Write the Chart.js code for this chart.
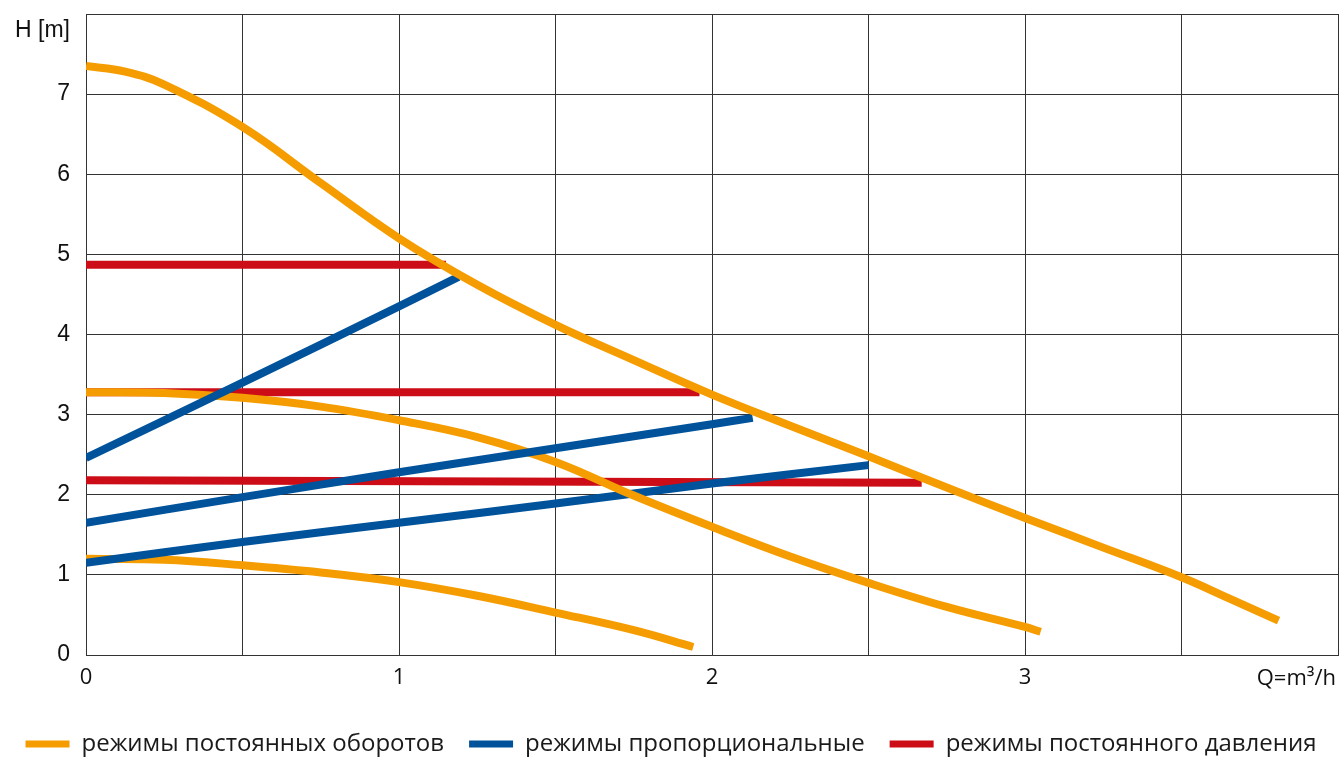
<!DOCTYPE html>
<html>
<head>
<meta charset="utf-8">
<script src="https://cdn.jsdelivr.net/npm/chart.js@4/dist/chart.umd.min.js"></script>
<style>
    html, body { margin: 0; padding: 0; background: #fff; }
    .chart-box { width: 1342px; height: 758px; }
</style>
</head>
<body>
<div class="chart-box"><canvas id="pumpCurves"></canvas></div>
<script>
// axes
const qTicks = [0, 0.5, 1, 1.5, 2, 2.5, 3, 3.5, 4];
const hTicks = [0, 1, 2, 3, 4, 5, 6, 7, 8];
const qUnit = 'Q=m³/h';
const hUnit = 'H [m]';

const legendNames = ['режимы постоянных оборотов', 'режимы пропорциональные', 'режимы постоянного давления'];

// constant speed (orange)
const speed1Q = [0, 0.125, 0.25, 0.5, 0.75, 1, 1.25, 1.5, 1.75, 2, 2.25, 2.5, 2.75, 3, 3.25, 3.5, 3.65, 3.81];
const speed1H = [7.35, 7.28, 7.12, 6.59, 5.89, 5.2, 4.62, 4.12, 3.68, 3.25, 2.86, 2.48, 2.09, 1.71, 1.34, 0.97, 0.71, 0.43];
const speed2Q = [0, 0.25, 0.5, 0.75, 1, 1.25, 1.5, 1.75, 2, 2.25, 2.5, 2.75, 3, 3.05];
const speed2H = [3.28, 3.27, 3.21, 3.1, 2.93, 2.72, 2.41, 1.99, 1.6, 1.23, 0.9, 0.6, 0.35, 0.29];
const speed3Q = [0, 0.25, 0.5, 0.75, 1, 1.25, 1.5, 1.75, 1.94];
const speed3H = [1.2, 1.19, 1.12, 1.03, 0.91, 0.74, 0.53, 0.31, 0.1];

// proportional (blue)
const prop1Q = [0, 0.5, 1, 1.19];
const prop1H = [2.46, 3.4, 4.35, 4.72];
const prop2Q = [0, 0.5, 1, 1.5, 2, 2.13];
const prop2H = [1.65, 1.97, 2.28, 2.58, 2.88, 2.96];
const prop3Q = [0, 0.5, 1, 1.5, 2, 2.5];
const prop3H = [1.15, 1.41, 1.65, 1.89, 2.14, 2.37];

// constant pressure (red)
const press1Q = [0, 1.15];
const press1H = [4.87, 4.87];
const press2Q = [0, 1.96];
const press2H = [3.28, 3.28];
const press3Q = [0, 2.67];
const press3H = [2.18, 2.15];

const ORANGE = '#f59d00';
const BLUE = '#00539b';
const RED = '#cc0c16';

function points(qs, hs) {
    return qs.map((q, i) => ({ x: q, y: hs[i] }));
}

function curve(label, qs, hs, color, smooth, inLegend) {
    return {
        label: label,
        data: points(qs, hs),
        borderColor: color,
        backgroundColor: color,
        borderWidth: 8,
        pointRadius: 0,
        pointHoverRadius: 0,
        tension: smooth ? 0.4 : 0,
        fill: false,
        inLegend: inLegend
    };
}

// first dataset is drawn on top
const datasets = [
    curve(legendNames[0], speed1Q, speed1H, ORANGE, true, true),
    curve(legendNames[1], prop2Q, prop2H, BLUE, true, true),
    curve(legendNames[1], prop1Q, prop1H, BLUE, true, false),
    curve(legendNames[0], speed2Q, speed2H, ORANGE, true, false),
    curve(legendNames[1], prop3Q, prop3H, BLUE, true, false),
    curve(legendNames[0], speed3Q, speed3H, ORANGE, true, false),
    curve(legendNames[2], press3Q, press3H, RED, false, true),
    curve(legendNames[2], press2Q, press2H, RED, false, false),
    curve(legendNames[2], press1Q, press1H, RED, false, false)
];

// unit labels sitting in the last tick slots
const unitLabels = {
    id: 'unitLabels',
    afterDraw(chart) {
        const ctx = chart.ctx;
        const x = chart.scales.x, y = chart.scales.y;
        ctx.save();
        ctx.fillStyle = '#111';
        ctx.textBaseline = 'middle';
        ctx.textAlign = 'right';
        ctx.font = '23px "Liberation Sans", Arial, sans-serif';
        ctx.fillText(hUnit, x.left - 16, y.getPixelForValue(hTicks[hTicks.length - 1]) + 17);
        ctx.font = '22px "Open Sans", sans-serif';
        ctx.fillText(qUnit, x.getPixelForValue(qTicks[qTicks.length - 1]) - 2, x.top + 24);
        ctx.restore();
    }
};

const ctx = document.getElementById('pumpCurves');
new Chart(ctx, {
    type: 'line',
    data: { datasets: datasets },
    plugins: [unitLabels],
    options: {
        responsive: true,
        maintainAspectRatio: false,
        animation: false,
        events: [],
        layout: { padding: { left: 0, right: 0, top: 14, bottom: 0 } },
        plugins: {
            tooltip: { enabled: false },
            legend: {
                position: 'bottom',
                maxHeight: 51,
                labels: {
                    boxWidth: 44,
                    boxHeight: 7,
                    padding: 25,
                    color: '#1a1a1a',
                    font: { family: '"Open Sans", sans-serif', size: 24 },
                    filter: (item, data) => data.datasets[item.datasetIndex].inLegend,
                    generateLabels(chart) {
                        return Chart.defaults.plugins.legend.labels.generateLabels(chart)
                            .map(l => Object.assign(l, { lineWidth: 0 }));
                    }
                }
            }
        },
        scales: {
            x: {
                type: 'linear',
                min: qTicks[0],
                max: qTicks[qTicks.length - 1],
                afterBuildTicks: s => { s.ticks = qTicks.map(v => ({ value: v })); },
                afterFit: s => { s.height = 52; s.paddingLeft = 0; s.paddingRight = 4; },
                border: { color: '#333', width: 1 },
                grid: { color: '#333', lineWidth: 1, drawTicks: false },
                ticks: {
                    autoSkip: false,
                    maxRotation: 0,
                    padding: 10,
                    color: '#111',
                    font: { family: '"Open Sans", sans-serif', size: 22 },
                    callback: v => (Number.isInteger(v) && v < qTicks[qTicks.length - 1]) ? v : ''
                }
            },
            y: {
                type: 'linear',
                min: hTicks[0],
                max: hTicks[hTicks.length - 1],
                afterBuildTicks: s => { s.ticks = hTicks.map(v => ({ value: v })); },
                afterFit: s => { s.width = 86; s.paddingTop = 0; s.paddingBottom = 0; },
                border: { color: '#333', width: 1 },
                grid: { color: '#333', lineWidth: 1, drawTicks: false },
                ticks: {
                    padding: 16,
                    color: '#111',
                    font: { family: '"Liberation Sans", Arial, sans-serif', size: 23 },
                    callback: v => v < hTicks[hTicks.length - 1] ? v : ''
                }
            }
        }
    }
});
</script>
</body>
</html>
